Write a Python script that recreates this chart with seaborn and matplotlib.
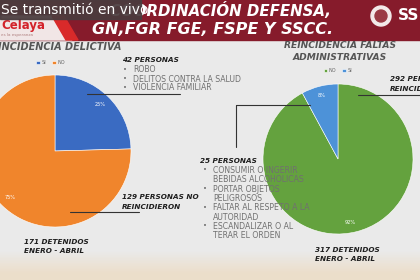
import numpy as np
import matplotlib
matplotlib.use("Agg")
import matplotlib.pyplot as plt
import seaborn as sns

sns.set_style("white")
plt.rcParams['font.family'] = ['DejaVu Sans']

# data
left_labels = ["SI", "NO"]
left_counts = [42, 129]
right_labels = ["NO", "SI"]
right_counts = [292, 25]
left_bullets = ["ROBO", "DELITOS CONTRA LA SALUD", "VIOLENCIA FAMILIAR"]
right_bullets = [["CONSUMIR O INGERIR", "BEBIDAS ALCOHOLICAS"],
                 ["PORTAR OBJETOS", "PELIGROSOS"],
                 ["FALTAR AL RESPETO A LA", "AUTORIDAD"],
                 ["ESCANDALIZAR O AL", "TERAR EL ORDEN"]]

left_colors = ["#3a6bc2", "#f0852c"]
right_colors = ["#64a23e", "#4d92d8"]

W, H = 420, 280
fig = plt.figure(figsize=(4.2, 2.8), dpi=100)

# background layer in pixel coords
bg = fig.add_axes([0, 0, 1, 1], zorder=0)
grad = np.linspace(0, 1, 100)[:, None]
base = np.array([0.918, 0.918, 0.918])
beige = np.array([0.925, 0.871, 0.795])
t = np.clip((grad - 0.9) / 0.08, 0, 1)
img = base + (beige - base) * t[..., None]
bg.imshow(np.repeat(img, 2, axis=1), extent=[0, W, H, 0], aspect="auto")
bg.set_xlim(0, W)
bg.set_ylim(H, 0)
bg.axis("off")

# banner
bg.add_patch(plt.Rectangle((0, 0), W, 40, color="#861b2b"))
bg.add_patch(plt.Polygon([[0, 16], [58, 16], [72, 40], [0, 40]], color="#f1e6e6"))
bg.add_patch(plt.Polygon([[52, 16], [64, 16], [78, 40], [66, 40]], color="#d92a2a"))
bg.add_patch(plt.Circle((381, 16), 10, color="#f3e9e9"))
bg.add_patch(plt.Circle((381, 16), 6, color="#9a3a44"))


def pie_axes(cx, cy, r):
    return fig.add_axes([(cx - r) / W, (H - cy - r) / H, 2 * r / W, 2 * r / H], zorder=1)


# left pie
axl = pie_axes(55, 151, 76)
wl, tl, al = axl.pie(left_counts, colors=left_colors, startangle=90, counterclock=False,
                     autopct="%1.0f%%", pctdistance=0.85,
                     wedgeprops=dict(edgecolor="white", linewidth=0.4),
                     textprops=dict(color="white", fontsize=3.6))
axl.set_xlim(-1, 1)
axl.set_ylim(-1, 1)
axl.legend(wl, left_labels, ncol=2, frameon=False, fontsize=3.6, loc="center",
           bbox_to_anchor=(0.47, 1.08), handlelength=0.7, handleheight=0.7,
           handletextpad=0.3, columnspacing=1.2, labelcolor="#666666")

# right pie
axr = pie_axes(338, 159, 75)
wr, tr, ar = axr.pie(right_counts, colors=right_colors, startangle=90, counterclock=False,
                     autopct="%1.0f%%", pctdistance=0.88,
                     wedgeprops=dict(edgecolor="white", linewidth=0.4),
                     textprops=dict(color="white", fontsize=3.6))
axr.set_xlim(-1, 1)
axr.set_ylim(-1, 1)
ar[0].set_position((0.16, -0.84))
axr.legend(wr, right_labels, ncol=2, frameon=False, fontsize=3.6, loc="center",
           bbox_to_anchor=(0.5, 1.09), handlelength=0.7, handleheight=0.7,
           handletextpad=0.3, columnspacing=1.2, labelcolor="#666666")

# overlay text layer
ov = fig.add_axes([0, 0, 1, 1], zorder=2)
ov.set_xlim(0, W)
ov.set_ylim(H, 0)
ov.axis("off")
ov.patch.set_alpha(0)

heavy = dict(fontweight="bold", fontstyle="italic")

ov.text(1, 26, "Celaya", color="#d3222a", fontsize=8.5, fontweight="bold", va="center")
ov.text(1, 35, "es la esperanza", color="#b08080", fontsize=3, va="center")
ov.text(331, 11, "COORDINACIÓN DEFENSA,", color="white", fontsize=10.8, ha="right",
        va="center", **heavy)
ov.text(213, 30, "GN,FGR FGE, FSPE Y SSCC.", color="white", fontsize=11.5, ha="center",
        va="center", **heavy)
ov.add_patch(plt.Rectangle((0, 0), 141, 19, color="#4a3c3e", alpha=0.93, zorder=3))
ov.text(1, 10.5, "Se transmitió en vivo", color="white", fontsize=10, va="center", zorder=4)
ov.text(398, 15, "SS", color="white", fontsize=11, fontweight="bold", va="center")

title_c = "#555555"
ov.text(-2, 47, "INCIDENCIA DELICTIVA", color=title_c, fontsize=7, va="center", **heavy)
ov.text(340, 46, "REINCIDENCIA FALTAS", color=title_c, fontsize=6.6, ha="center",
        va="center", **heavy)
ov.text(340, 57, "ADMINISTRATIVAS", color=title_c, fontsize=6.6, ha="center",
        va="center", **heavy)

dark = "#1e1e1e"
light = "#707070"
fs_h = 5.2
fs_l = 5.6
ov.text(122, 60, "42 PERSONAS", color=dark, fontsize=fs_h, va="center", **heavy)
for i, s in enumerate(left_bullets):
    y = 70 + i * 9
    ov.text(123, y, "•", color=light, fontsize=5, va="center")
    ov.text(133, y, s, color=light, fontsize=fs_l, va="center")
ov.plot([87, 180], [94, 94], color="#333333", lw=0.8)

ov.text(122, 197, "129 PERSONAS NO", color=dark, fontsize=fs_h, va="center", **heavy)
ov.text(122, 207, "REINCIDIERON", color=dark, fontsize=fs_h, va="center", **heavy)
ov.plot([70, 139], [212, 212], color="#333333", lw=0.8)

ov.text(24, 242, "171 DETENIDOS", color=dark, fontsize=fs_h, va="center", **heavy)
ov.text(24, 251, "ENERO - ABRIL", color=dark, fontsize=fs_h, va="center", **heavy)

ov.text(390, 79, "292 PERSONAS", color=dark, fontsize=fs_h, va="center", **heavy)
ov.text(390, 89, "REINCIDIERON", color=dark, fontsize=fs_h, va="center", **heavy)
ov.plot([358, 420], [95, 95], color="#333333", lw=0.8)
ov.plot([236, 310], [105, 105], color="#333333", lw=0.8)
ov.plot([236, 236], [105, 147], color="#333333", lw=0.8)

ov.text(200, 161, "25 PERSONAS", color=dark, fontsize=fs_h, va="center", **heavy)
y = 170.5
for pair in right_bullets:
    ov.text(203, y, "•", color=light, fontsize=5, va="center")
    for s in pair:
        ov.text(213, y, s, color=light, fontsize=fs_l, va="center")
        y += 9.3

ov.text(315, 250, "317 DETENIDOS", color=dark, fontsize=fs_h, va="center", **heavy)
ov.text(315, 259, "ENERO - ABRIL", color=dark, fontsize=fs_h, va="center", **heavy)

fig.savefig("out.png", dpi=100)
